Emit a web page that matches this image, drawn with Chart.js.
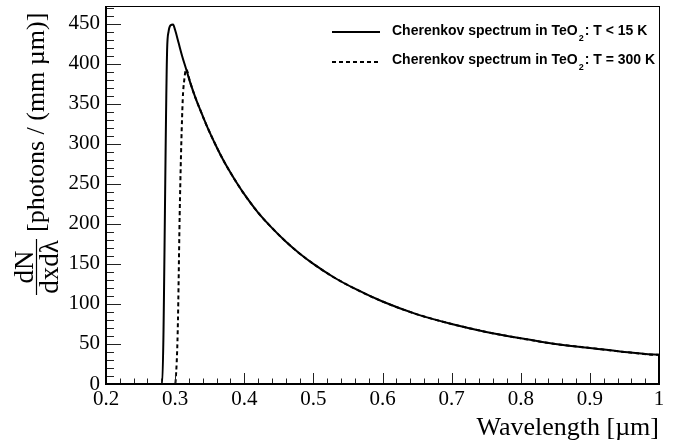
<!DOCTYPE html>
<html>
<head>
<meta charset="utf-8">
<script src="https://cdn.jsdelivr.net/npm/chart.js@4"></script>
<style>
  body { margin: 0; background: #fff; }
</style>
</head>
<body>
<canvas id="spectrumChart" width="684" height="445"></canvas>
<script>
// Cherenkov photon yield in TeO2, dN/dxdλ in photons / (mm µm)
const wavelengthCold = [0.2, 0.2812, 0.2884, 0.2905, 0.2935, 0.297, 0.300, 0.305, 0.310, 0.316, 0.322, 0.330, 0.336, 0.345,
  0.36, 0.37, 0.38, 0.39, 0.40, 0.42, 0.44, 0.46, 0.48, 0.50, 0.53, 0.56, 0.60, 0.65, 0.70, 0.75, 0.80, 0.85, 0.90, 0.95, 1.0, 1.0];
const yieldCold = [0, 0, 417, 440, 448, 449, 442, 426, 410, 393, 376, 356, 343, 324,
  296, 279, 264, 250, 237, 214, 195, 178, 163, 150, 133, 119, 103, 87, 75, 65, 57, 50, 45, 40, 36.5, 0];

const wavelengthWarm = [0.2, 0.300, 0.3008, 0.3037, 0.307, 0.311, 0.313, 0.316, 0.322, 0.330, 0.336, 0.345,
  0.36, 0.37, 0.38, 0.39, 0.40, 0.42, 0.44, 0.46, 0.48, 0.50, 0.53, 0.56, 0.60, 0.65, 0.70, 0.75, 0.80, 0.85, 0.90, 0.95, 1.0, 1.0];
const yieldWarm = [0, 0, 5, 64, 230, 355, 378, 393, 376, 356, 343, 324,
  296, 279, 264, 250, 237, 214, 195, 178, 163, 150, 133, 119, 103, 87, 75, 65, 57, 50, 45, 40, 36.5, 0];

const xTickValues = [0.2, 0.3, 0.4, 0.5, 0.6, 0.7, 0.8, 0.9, 1.0];
const xTickLabels = ['0.2', '0.3', '0.4', '0.5', '0.6', '0.7', '0.8', '0.9', '1'];
const yTickValues = [0, 50, 100, 150, 200, 250, 300, 350, 400, 450];

const serif = '"Liberation Serif", "Times New Roman", serif';
const sans = '"Liberation Sans", Arial, sans-serif';

const toPoints = (xs, ys) => xs.map((x, i) => ({ x: x, y: ys[i] }));

// frame with inward major/minor ticks
const frameTicks = {
  id: 'frameTicks',
  afterDraw(chart) {
    const { ctx, chartArea: a, scales: { x, y } } = chart;
    ctx.save();
    ctx.strokeStyle = '#222';
    ctx.lineWidth = 1;
    ctx.beginPath();
    for (let i = 0; i <= 40; i++) {
      const v = 0.2 + i * 0.02;
      const px = Math.round(x.getPixelForValue(v)) + 0.5;
      const len = i % 5 === 0 ? 11 : 5.5;
      ctx.moveTo(px, a.bottom);
      ctx.lineTo(px, a.bottom - len);
    }
    for (let v = 0; v <= y.max; v += 10) {
      const py = Math.round(y.getPixelForValue(v)) + 0.5;
      const len = v % 50 === 0 ? 15 : 8;
      ctx.moveTo(a.left, py);
      ctx.lineTo(a.left + len, py);
    }
    ctx.stroke();

    ctx.strokeStyle = '#000';
    ctx.strokeRect(a.left + 0.5, a.top + 0.5, a.right - a.left, a.bottom - a.top);
    ctx.lineWidth = 2;
    ctx.beginPath();
    ctx.moveTo(a.left, a.top);
    ctx.lineTo(a.left, a.bottom);
    ctx.lineTo(a.right, a.bottom);
    ctx.stroke();
    ctx.restore();
  }
};

// axis titles: plain x title, fraction + units on y
const axisTitles = {
  id: 'axisTitles',
  afterDraw(chart) {
    const { ctx, chartArea: a } = chart;
    ctx.save();
    ctx.fillStyle = '#000';
    ctx.font = '26px ' + serif;
    ctx.textAlign = 'right';
    ctx.textBaseline = 'alphabetic';
    ctx.fillText('Wavelength [\u00b5m]', a.right, 435);

    ctx.rotate(-Math.PI / 2);
    ctx.textAlign = 'center';
    ctx.font = '27px ' + serif;
    ctx.fillText('dN', -267, 33);
    ctx.fillText('dxd\u03bb', -267, 58);
    ctx.strokeStyle = '#000';
    ctx.lineWidth = 1.2;
    ctx.beginPath();
    ctx.moveTo(-295, 36.5);
    ctx.lineTo(-239, 36.5);
    ctx.stroke();
    ctx.textAlign = 'left';
    ctx.font = '26px ' + serif;
    ctx.fillText('[photons / (mm \u00b5m)]', -232, 44);
    ctx.restore();
  }
};

// legend entries with TeO2 subscript
const spectrumLegend = {
  id: 'spectrumLegend',
  afterDraw(chart) {
    const { ctx } = chart;
    const entries = [
      { dash: [], lineY: 32, base: 35, tail: ': T < 15 K' },
      { dash: [4, 3], lineY: 62, base: 64, tail: ': T = 300 K' }
    ];
    ctx.save();
    ctx.fillStyle = '#000';
    ctx.strokeStyle = '#000';
    entries.forEach(e => {
      ctx.lineWidth = 2;
      ctx.setLineDash(e.dash);
      ctx.beginPath();
      ctx.moveTo(332, e.lineY);
      ctx.lineTo(380, e.lineY);
      ctx.stroke();

      let tx = 392;
      const head = 'Cherenkov spectrum in TeO';
      ctx.font = 'bold 14px ' + sans;
      ctx.fillText(head, tx, e.base);
      tx += ctx.measureText(head).width + 1;
      ctx.font = 'bold 9px ' + sans;
      ctx.fillText('2', tx, e.base + 6);
      tx += ctx.measureText('2').width + 1;
      ctx.font = 'bold 14px ' + sans;
      ctx.fillText(e.tail, tx, e.base);
    });
    ctx.restore();
  }
};

const ctx = document.getElementById('spectrumChart').getContext('2d');
const spectrumChart = new Chart(ctx, {
  type: 'line',
  data: {
    datasets: [{
      label: 'T < 15 K',
      data: toPoints(wavelengthCold, yieldCold),
      borderColor: '#000',
      borderWidth: 2,
      pointRadius: 0,
      cubicInterpolationMode: 'monotone',
      fill: false
    }, {
      label: 'T = 300 K',
      data: toPoints(wavelengthWarm, yieldWarm),
      borderColor: '#000',
      borderWidth: 2,
      borderDash: [4, 3],
      pointRadius: 0,
      cubicInterpolationMode: 'monotone',
      fill: false
    }]
  },
  options: {
    responsive: false,
    animation: false,
    layout: { padding: { top: 6, right: 25, left: 0, bottom: 0 } },
    plugins: { legend: { display: false }, tooltip: { enabled: false } },
    scales: {
      x: {
        type: 'linear',
        min: 0.2,
        max: 1.0,
        grid: { display: false, drawTicks: false },
        border: { display: false },
        afterBuildTicks: (scale) => { scale.ticks = xTickValues.map(v => ({ value: v })); },
        afterFit: (scale) => {
          scale.height = 61;
          scale.paddingLeft = 0;
          scale.paddingRight = 0;
        },
        ticks: {
          font: { family: serif, size: 21 },
          color: '#000',
          padding: 3,
          maxRotation: 0,
          autoSkip: false,
          callback: (v, i) => xTickLabels[i]
        }
      },
      y: {
        type: 'linear',
        min: 0,
        max: 472,
        grid: { display: false, drawTicks: false },
        border: { display: false },
        afterBuildTicks: (scale) => { scale.ticks = yTickValues.map(v => ({ value: v })); },
        afterFit: (scale) => {
          scale.width = 106;
          scale.paddingTop = 0;
          scale.paddingBottom = 0;
        },
        ticks: {
          font: { family: serif, size: 21 },
          color: '#000',
          padding: 6,
          autoSkip: false,
          callback: (v) => String(v)
        }
      }
    }
  },
  plugins: [frameTicks, axisTitles, spectrumLegend]
});
</script>
</body>
</html>
